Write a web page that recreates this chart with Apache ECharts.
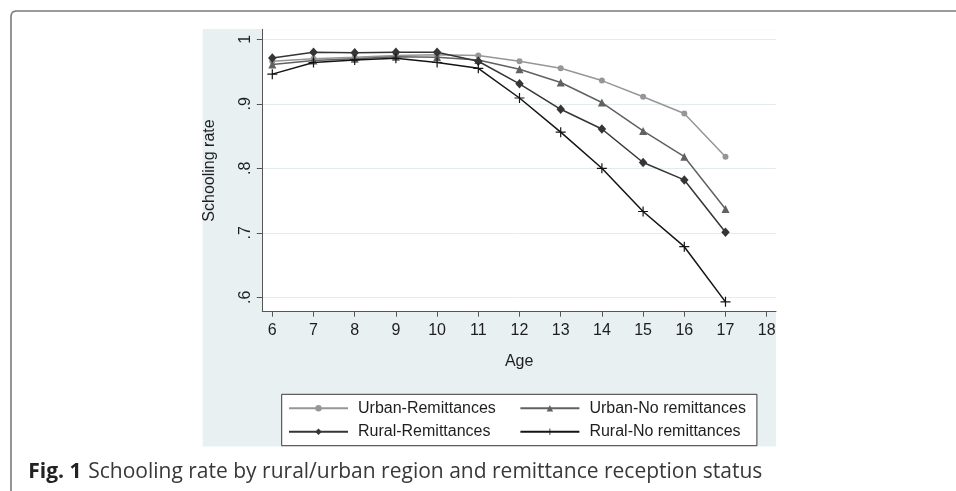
<!DOCTYPE html>
<html>
<head>
<meta charset="utf-8">
<script src="https://cdn.jsdelivr.net/npm/echarts@6/dist/echarts.min.js"></script>
<style>html,body{margin:0;padding:0;background:#fff;}#c{width:956px;height:491px;}</style>
</head>
<body>
<div id="c"></div>
<script>
// ---- data ----
const ages = [6, 7, 8, 9, 10, 11, 12, 13, 14, 15, 16, 17];
const urbanRemittances   = [0.966, 0.970, 0.972, 0.975, 0.976, 0.975, 0.966, 0.955, 0.936, 0.911, 0.885, 0.818];
const urbanNoRemittances = [0.961, 0.967, 0.970, 0.973, 0.972, 0.968, 0.9535, 0.933, 0.902, 0.858, 0.818, 0.737];
const ruralRemittances   = [0.971, 0.980, 0.979, 0.980, 0.980, 0.966, 0.931, 0.8915, 0.861, 0.809, 0.782, 0.701];
const ruralNoRemittances = [0.946, 0.964, 0.968, 0.9705, 0.964, 0.955, 0.909, 0.856, 0.800, 0.733, 0.6785, 0.593];
const seriesNames = ['Urban-Remittances', 'Urban-No remittances', 'Rural-Remittances', 'Rural-No remittances'];
const xTicks = [6, 7, 8, 9, 10, 11, 12, 13, 14, 15, 16, 17, 18];
const yTicks = [0.6, 0.7, 0.8, 0.9, 1.0];
const yTickLabels = ['.6', '.7', '.8', '.9', '1'];
const xTitle = 'Age';
const yTitle = 'Schooling rate';
const captionBold = 'Fig. 1';
const captionText = 'Schooling rate by rural/urban region and remittance reception status';

// ---- chart ----
const FONT = '"Liberation Sans", Arial, sans-serif';
const plusPath = 'path://M4.4,0 H5.6 V4.4 H10 V5.6 H5.6 V10 H4.4 V5.6 H0 V4.4 H4.4 Z';
const colors = ['#969696', '#616161', '#353535', '#141414'];
const symbols = ['circle', 'triangle', 'diamond', plusPath];
const symbolSizes = [6, 8, [8.5, 9.5], 10];
const values = [urbanRemittances, urbanNoRemittances, ruralRemittances, ruralNoRemittances];

const chart = echarts.init(document.getElementById('c'), null, {renderer: 'canvas'});
const axisColor = '#555';
const gridColor = '#e2ecef';

const option = {
  animation: false,
  textStyle: {fontFamily: FONT},
  grid: {
    left: 262.3, right: 180, top: 29.3, bottom: 179.3,
    show: true, backgroundColor: '#ffffff', borderWidth: 0
  },
  xAxis: {
    type: 'value', min: 5.757, max: 18.226,
    axisLine: {show: true, onZero: false, lineStyle: {color: axisColor, width: 1}},
    axisTick: {show: true, length: 5, customValues: xTicks, lineStyle: {color: axisColor, width: 1}},
    axisLabel: {customValues: xTicks, fontSize: 16, color: '#1e1e1e', margin: 11, fontFamily: FONT},
    splitLine: {show: false},
    name: xTitle, nameLocation: 'middle', nameGap: 42,
    nameTextStyle: {fontSize: 16, color: '#1e1e1e', fontFamily: FONT}
  },
  yAxis: {
    type: 'value', min: 0.5777, max: 1.0155,
    axisLine: {show: true, onZero: false, lineStyle: {color: axisColor, width: 1}},
    axisTick: {show: true, length: 5.5, customValues: yTicks, lineStyle: {color: axisColor, width: 1}},
    axisLabel: {
      customValues: yTicks, rotate: 90, fontSize: 16, color: '#1e1e1e', margin: 9, fontFamily: FONT,
      formatter: function (v) {
        for (let i = 0; i < yTicks.length; i++) if (Math.abs(yTicks[i] - v) < 1e-6) return yTickLabels[i];
        return '';
      }
    },
    splitLine: {show: true, lineStyle: {color: gridColor, width: 1}},
    name: yTitle, nameLocation: 'middle', nameGap: 45,
    nameTextStyle: {fontSize: 16, color: '#1e1e1e', fontFamily: FONT}
  },
  legend: {
    data: seriesNames,
    orient: 'horizontal',
    left: 281.7, top: 394.3, width: 460,
    padding: [6, 11, 6, 6.3],
    itemGap: 7.4, itemWidth: 59, itemHeight: 8,
    borderColor: '#3a3a3a', borderWidth: 1, backgroundColor: '#ffffff',
    textStyle: {fontSize: 16, color: '#1e1e1e', width: 154, lineHeight: 16, padding: [0, 0, 0, 5], fontFamily: FONT}
  },
  graphic: {
    elements: [
      {
        type: 'rect', z: -10, silent: true,
        shape: {x: 202.7, y: 29, width: 573.3, height: 417.5},
        style: {fill: '#e8f0f2'}
      },
      {
        type: 'polyline', z: 10, silent: true,
        shape: {points: [[11, 495], [11, 16], [11.7, 13.3], [13.3, 11.7], [16, 11], [960, 11]]},
        style: {fill: null, stroke: '#7a7a7a', lineWidth: 1.6}
      },
      {
        type: 'text', z: 10, silent: true,
        x: 28.3, y: 471.7,
        style: {
          text: '{b|' + captionBold + '}  {n|' + captionText + '}',
          verticalAlign: 'middle', align: 'left',
          rich: {
            b: {fontFamily: '"Open Sans", sans-serif', fontWeight: 'bold', fontSize: 21, fill: '#222'},
            n: {fontFamily: '"Open Sans", sans-serif', fontSize: 21, fill: '#383838'}
          }
        }
      }
    ]
  },
  series: seriesNames.map(function (name, i) {
    return {
      name: name,
      type: 'line',
      data: ages.map(function (a, j) { return [a, values[i][j]]; }),
      symbol: symbols[i],
      symbolSize: symbolSizes[i],
      showAllSymbol: true,
      lineStyle: {color: colors[i], width: 1.5},
      itemStyle: {color: colors[i]},
      z: 2 + i
    };
  })
};
chart.setOption(option);
</script>
</body>
</html>
